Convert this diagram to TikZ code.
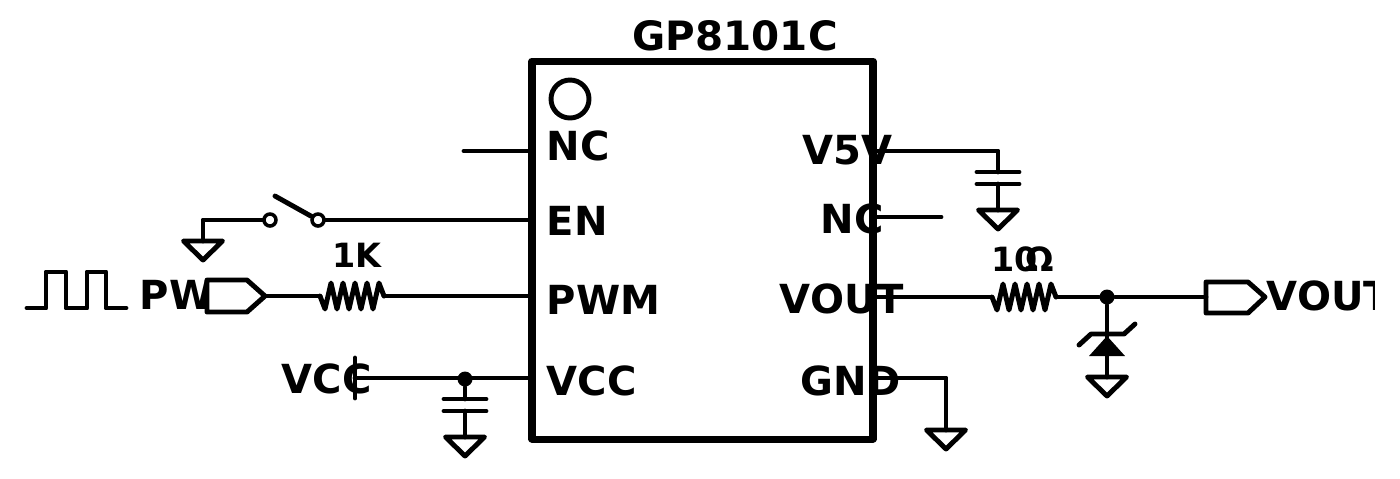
\documentclass[tikz,border=0pt]{standalone}
\usepackage{fontspec}
\setmainfont{DejaVu Sans}
\usepackage{tikz}

\tikzset{
	wire/.style={line width=1.4pt,line cap=round,line join=round},
	chipbox/.style={line width=2pt,line join=round},
	pinlabel/.style={font=\bfseries\fontsize{11.4}{12}\selectfont,inner sep=0pt,anchor=base west},
	vallabel/.style={font=\bfseries\fontsize{9.5}{10}\selectfont,inner sep=0pt,anchor=base west},
	contact/.style={circle,draw,line width=1pt,fill=white,inner sep=0pt,minimum size=0.12cm},
	joint/.style={circle,fill,inner sep=0pt,minimum size=0.15cm},
	gndsym/.pic={\draw [wire] (-0.195,0) -- (0.195,0) -- (0,-0.19) -- cycle ;},
	capsym/.pic={
		\draw [wire] (-0.21,0) -- (0.21,0) ;
		\draw [wire] (-0.21,-0.12) -- (0.21,-0.12) ;
	},
	ressym/.pic={
		\draw [wire] (0,0) -- (0.05,-0.13) -- (0.11,0.13) -- (0.17,-0.13) -- (0.23,0.13) -- (0.29,-0.13)
			-- (0.35,0.13) -- (0.41,-0.13) -- (0.47,0.13) -- (0.53,-0.13) -- (0.59,0.13) -- (0.64,0) ;
	},
}

\begin{document}
\begin{tikzpicture}
	\useasboundingbox (0,0) rectangle (14,-4.78) ;

	% chip
	\draw [chipbox] (5.32,-0.61) rectangle (8.73,-4.39) ;
	\draw [wire] (5.70,-0.99) circle [radius=0.19] ;
	\node (title) [font=\bfseries\fontsize{11.5}{13}\selectfont,inner sep=0pt,anchor=base west] at (6.32,-0.50) {GP8101C} ;
	\node (lnc) [pinlabel] at (5.46,-1.60) {NC} ;
	\node (len) [pinlabel] at (5.46,-2.35) {EN} ;
	\node (lpwm) [pinlabel] at (5.46,-3.14) {PWM} ;
	\node (lvcc) [pinlabel] at (5.46,-3.95) {VCC} ;
	\node (lvfive) [pinlabel] at (8.02,-1.64) {V5V} ;
	\node (lncr) [pinlabel] at (8.20,-2.33) {NC} ;
	\node (lvout) [pinlabel] at (7.79,-3.13) {VOUT} ;
	\node (lgnd) [pinlabel] at (8.00,-3.95) {GND} ;

	% pin ends on the chip
	\coordinate (pnc) at (5.32,-1.51) ;
	\coordinate (pen) at (5.32,-2.20) ;
	\coordinate (ppwm) at (5.32,-2.96) ;
	\coordinate (pvcc) at (5.32,-3.78) ;
	\coordinate (pvfive) at (8.73,-1.51) ;
	\coordinate (pncr) at (8.73,-2.17) ;
	\coordinate (pvout) at (8.73,-2.97) ;
	\coordinate (pgnd) at (8.73,-3.78) ;

	% NC, left
	\coordinate (ncend) at (4.64,-1.51) ;
	\draw [wire] (pnc) -- (ncend) ;

	% EN and switch
	\node (swb) [contact] at (3.18,-2.20) {} ;
	\node (swa) [contact] at (2.70,-2.20) {} ;
	\coordinate (lever) at (2.75,-1.96) ;
	\coordinate (encorner) at (2.03,-2.20) ;
	\coordinate (gndsw) at (2.03,-2.41) ;
	\draw [wire] (pen) -- (swb) ;
	\draw [wire] (swb) -- (lever) ;
	\draw [wire] (swa) -- (encorner) -- (gndsw) ;
	\pic at (gndsw) {gndsym} ;

	% PWM
	\draw [wire] (0.27,-3.08) -- (0.46,-3.08) -- (0.46,-2.72) -- (0.66,-2.72) -- (0.66,-3.08) -- (0.87,-3.08)
		-- (0.87,-2.72) -- (1.06,-2.72) -- (1.06,-3.08) -- (1.26,-3.08) ;
	\node (lpw) [pinlabel] at (1.39,-3.09) {PW} ;
	\draw [wire,fill=white] (2.07,-2.80) -- (2.47,-2.80) -- (2.65,-2.96) -- (2.47,-3.12) -- (2.07,-3.12) -- cycle ;
	\coordinate (tagpwm) at (2.65,-2.96) ;
	\coordinate (rona) at (3.20,-2.96) ;
	\coordinate (ronb) at (3.84,-2.96) ;
	\draw [wire] (tagpwm) -- (rona) ;
	\pic at (rona) {ressym} ;
	\draw [wire] (ronb) -- (ppwm) ;
	\node (lonek) [vallabel] at (3.32,-2.67) {1K} ;

	% VCC
	\node (dotvcc) [joint] at (4.65,-3.79) {} ;
	\coordinate (vccend) at (3.55,-3.78) ;
	\coordinate (caplt) at (4.65,-3.99) ;
	\coordinate (caplb) at (4.65,-4.11) ;
	\coordinate (gndcl) at (4.65,-4.37) ;
	\node (lvccout) [pinlabel] at (2.81,-3.93) {VCC} ;
	\draw [wire] (pvcc) -- (vccend) ;
	\draw [wire] (3.55,-3.58) -- (3.55,-3.98) ;
	\draw [wire] (dotvcc) -- (caplt) ;
	\pic at (caplt) {capsym} ;
	\draw [wire] (caplb) -- (gndcl) ;
	\pic at (gndcl) {gndsym} ;

	% V5V
	\coordinate (vfivecorner) at (9.98,-1.51) ;
	\coordinate (caprt) at (9.98,-1.72) ;
	\coordinate (caprb) at (9.98,-1.84) ;
	\coordinate (gndcr) at (9.98,-2.10) ;
	\draw [wire] (pvfive) -- (vfivecorner) -- (caprt) ;
	\pic at (caprt) {capsym} ;
	\draw [wire] (caprb) -- (gndcr) ;
	\pic at (gndcr) {gndsym} ;

	% NC, right
	\coordinate (ncrend) at (9.41,-2.17) ;
	\draw [wire] (pncr) -- (ncrend) ;

	% VOUT
	\coordinate (rtena) at (9.92,-2.97) ;
	\coordinate (rtenb) at (10.56,-2.97) ;
	\node (dotvout) [joint] at (11.07,-2.97) {} ;
	\coordinate (tagvout) at (12.06,-2.97) ;
	\draw [wire] (pvout) -- (rtena) ;
	\pic at (rtena) {ressym} ;
	\draw [wire] (rtenb) -- (dotvout) -- (tagvout) ;
	\node (lten) [vallabel] at (9.91,-2.71) {10} ;
	\node (lohm) [vallabel] at (10.25,-2.71) {Ω} ;
	\draw [wire] (12.06,-2.82) -- (12.48,-2.82) -- (12.65,-2.97) -- (12.48,-3.13) -- (12.06,-3.13) -- cycle ;
	\begin{scope}
		\clip (12.60,-2.50) rectangle (13.74,-3.50) ;
		\node (lvoutr) [pinlabel] at (12.66,-3.10) {VOUT} ;
	\end{scope}

	% zener
	\coordinate (gndz) at (11.07,-3.77) ;
	\draw [wire] (dotvout) -- (gndz) ;
	\fill (10.89,-3.56) -- (11.25,-3.56) -- (11.07,-3.36) -- cycle ;
	\draw [wire] (10.79,-3.45) -- (10.91,-3.34) -- (11.24,-3.34) -- (11.35,-3.24) ;
	\pic at (gndz) {gndsym} ;

	% GND
	\coordinate (gndcorner) at (9.46,-3.78) ;
	\coordinate (gndchip) at (9.46,-4.30) ;
	\draw [wire] (pgnd) -- (gndcorner) -- (gndchip) ;
	\pic at (gndchip) {gndsym} ;
\end{tikzpicture}
\end{document}
